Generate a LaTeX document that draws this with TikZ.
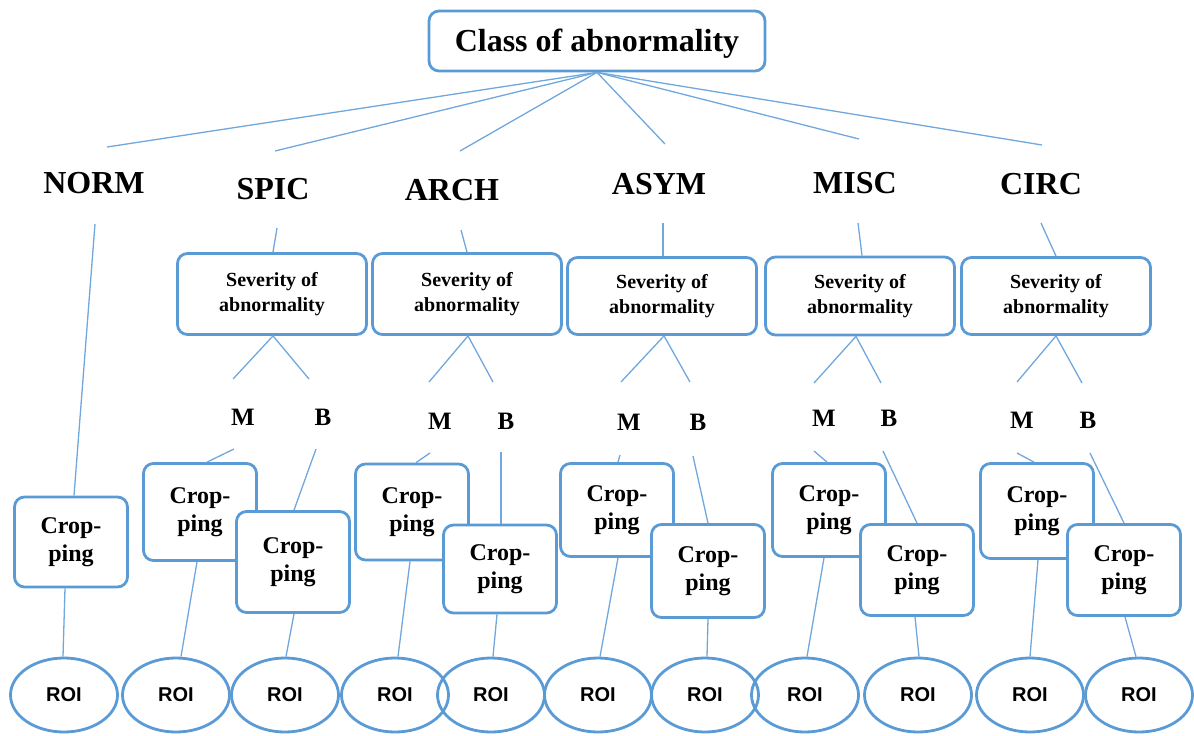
\documentclass[tikz,border=0pt]{standalone}
\usepackage{fontspec}
\setmainfont{Liberation Serif}
\newfontfamily\roifont{Liberation Sans}
\usetikzlibrary{shapes.geometric}
\definecolor{boxblue}{RGB}{91,155,213}
\definecolor{linkblue}{RGB}{112,168,222}

\begin{document}
\begin{tikzpicture}[x=1pt,y=-1pt,
  framed/.style={draw=boxblue, line width=2.8pt, rounded corners=10pt, fill=white,
    inner sep=0pt, text=black},
  box/.style={framed, align=center},
  topbox/.style={framed, minimum width=336pt, minimum height=60pt,
    text height=21pt, text depth=0pt, font=\fontsize{32}{36}\selectfont\bfseries},
  sevbox/.style={box, minimum width=189pt, minimum height=79pt,
    font=\fontsize{20}{25}\selectfont\bfseries},
  cropbox/.style={box, minimum width=113pt, minimum height=94pt,
    font=\fontsize{24}{28}\selectfont\bfseries},
  roi/.style={ellipse, draw=boxblue, line width=2.8pt, minimum width=107pt,
    minimum height=74pt, inner sep=0pt, text=black,
    font=\roifont\fontsize{20}{24}\selectfont\bfseries},
  cls/.style={inner sep=0pt, text=black, font=\fontsize{32}{36}\selectfont\bfseries},
  mb/.style={inner sep=0pt, text=black, font=\fontsize{25}{30}\selectfont\bfseries},
  link/.style={draw=linkblue, line width=1.3pt},
]
\useasboundingbox (0,0) rectangle (1194,736);

% root
\node[topbox] (top) at (597,41) {Class of abnormality};

% classes
\node[cls] (lN) at (94,183) {NORM};
\node[cls] (lS) at (273,189) {SPIC};
\node[cls] (lA) at (452,190) {ARCH};
\node[cls] (lY) at (659,184) {ASYM};
\node[cls] (lM) at (855,183) {MISC};
\node[cls] (lC) at (1041,184) {CIRC};

% severity boxes
\node[sevbox, minimum height=81pt] (sS) at (272,294) {Severity of\\abnormality};
\node[sevbox, minimum height=81pt] (sA) at (467,294) {Severity of\\abnormality};
\node[sevbox, minimum height=77pt] (sY) at (662,296) {Severity of\\abnormality};
\node[sevbox, minimum height=78pt] (sM) at (860,296) {Severity of\\abnormality};
\node[sevbox, minimum height=77pt] (sC) at (1056,296) {Severity of\\abnormality};

% malignant / benign labels
\node[mb] (mS) at (243,417) {M};
\node[mb] (bS) at (323,417) {B};
\node[mb] (mA) at (440,421) {M};
\node[mb] (bA) at (506,421) {B};
\node[mb] (mY) at (629,422) {M};
\node[mb] (bY) at (698,422) {B};
\node[mb] (mM) at (824,418) {M};
\node[mb] (bM) at (889,418) {B};
\node[mb] (mC) at (1022,420) {M};
\node[mb] (bC) at (1088,420) {B};

% cropping boxes (benign boxes drawn over malignant ones)
\node[cropbox, minimum height=90pt] (cN) at (71,542) {Crop-\\ping};
\node[cropbox, minimum height=97pt] (cSm) at (200,512) {Crop-\\ping};
\node[cropbox, minimum height=101pt] (cSb) at (293,562) {Crop-\\ping};
\node[cropbox, minimum height=96pt] (cAm) at (412,512) {Crop-\\ping};
\node[cropbox, minimum height=88pt] (cAb) at (500,569) {Crop-\\ping};
\node[cropbox, minimum height=93pt] (cYm) at (617,510) {Crop-\\ping};
\node[cropbox, minimum height=93pt] (cYb) at (708,571) {Crop-\\ping};
\node[cropbox, minimum height=93pt] (cMm) at (829,510) {Crop-\\ping};
\node[cropbox, minimum height=91pt] (cMb) at (917,570) {Crop-\\ping};
\node[cropbox, minimum height=95pt] (cCm) at (1037,511) {Crop-\\ping};
\node[cropbox, minimum height=91pt] (cCb) at (1124,570) {Crop-\\ping};

% regions of interest
\foreach \i/\x in {1/64,2/176,3/285,4/395,5/491,6/598,7/705,8/805,9/918,10/1030,11/1139}
  \node[roi] (r\i) at (\x,695) {ROI};

% free ends of the connectors
\coordinate (fN) at (107,147);
\coordinate (fS) at (275,151);
\coordinate (fA) at (460,151);
\coordinate (fY) at (665,144);
\coordinate (fM) at (859,139);
\coordinate (fC) at (1042,145);

\coordinate (dN) at (95,224);
\coordinate (dS) at (277,228);
\coordinate (dA) at (461,230);
\coordinate (dY) at (663,223);
\coordinate (dM) at (858,223);
\coordinate (dC) at (1041,223);

\coordinate (uSm) at (233,379);  \coordinate (uSb) at (309,379);
\coordinate (uAm) at (429,382);  \coordinate (uAb) at (493,382);
\coordinate (uYm) at (621,382);  \coordinate (uYb) at (690,382);
\coordinate (uMm) at (814,383);  \coordinate (uMb) at (881,383);
\coordinate (uCm) at (1017,382); \coordinate (uCb) at (1082,383);

\coordinate (vSm) at (234,449);  \coordinate (vSb) at (316,449);
\coordinate (vAm) at (430,453);  \coordinate (vAb) at (501,452);
\coordinate (vYm) at (620,455);  \coordinate (vYb) at (693,456);
\coordinate (vMm) at (814,451);  \coordinate (vMb) at (883,451);
\coordinate (vCm) at (1017,453); \coordinate (vCb) at (1090,453);

% root to classes
\foreach \t in {fN,fS,fA,fY,fM,fC}
  \draw[link] (top.south) -- (\t);

% classes to severity boxes
\draw[link] (dN) -- ([xshift=3pt]cN.north);
\draw[link] (dS) -- ([xshift=1pt]sS.north);
\draw[link] (dA) -- (sA.north);
\draw[link] (dY) -- ([xshift=1pt]sY.north);
\draw[link] (dM) -- ([xshift=2pt]sM.north);
\draw[link] (dC) -- (sC.north);

% severity to M / B
\draw[link] (uSm) -- ([xshift=1pt]sS.south) -- (uSb);
\draw[link] (uAm) -- ([xshift=1pt]sA.south) -- (uAb);
\draw[link] (uYm) -- ([xshift=2pt]sY.south) -- (uYb);
\draw[link] (uMm) -- ([xshift=-4pt]sM.south) -- (uMb);
\draw[link] (uCm) -- (sC.south) -- (uCb);

% M / B to cropping
\draw[link] (vSm) -- ([xshift=7pt]cSm.north);
\draw[link] (vSb) -- ([xshift=1pt]cSb.north);
\draw[link] (vAm) -- ([xshift=4pt]cAm.north);
\draw[link] (vAb) -- ([xshift=1pt]cAb.north);
\draw[link] (vYm) -- ([xshift=1pt]cYm.north);
\draw[link] (vYb) -- (cYb.north);
\draw[link] (vMm) -- ([xshift=-2pt]cMm.north);
\draw[link] (vMb) -- (cMb.north);
\draw[link] (vCm) -- ([xshift=-3pt]cCm.north);
\draw[link] (vCb) -- (cCb.north);

% cropping to ROI
\draw[link] ([xshift=-6pt]cN.south)  -- ([xshift=-1pt]r1.north);
\draw[link] ([xshift=-3pt]cSm.south) -- ([xshift=5pt]r2.north);
\draw[link] ([xshift=1pt]cSb.south)  -- ([xshift=1pt]r3.north);
\draw[link] ([xshift=-2pt]cAm.south) -- ([xshift=3pt]r4.north);
\draw[link] ([xshift=-3pt]cAb.south) -- ([xshift=2pt]r5.north);
\draw[link] ([xshift=1pt]cYm.south)  -- ([xshift=2pt]r6.north);
\draw[link] (cYb.south)              -- ([xshift=2pt]r7.north);
\draw[link] ([xshift=-5pt]cMm.south) -- ([xshift=2pt]r8.north);
\draw[link] ([xshift=-2pt]cMb.south) -- ([xshift=1pt]r9.north);
\draw[link] ([xshift=1pt]cCm.south)  -- (r10.north);
\draw[link] ([xshift=1pt]cCb.south)  -- ([xshift=-3pt]r11.north);
\end{tikzpicture}
\end{document}
